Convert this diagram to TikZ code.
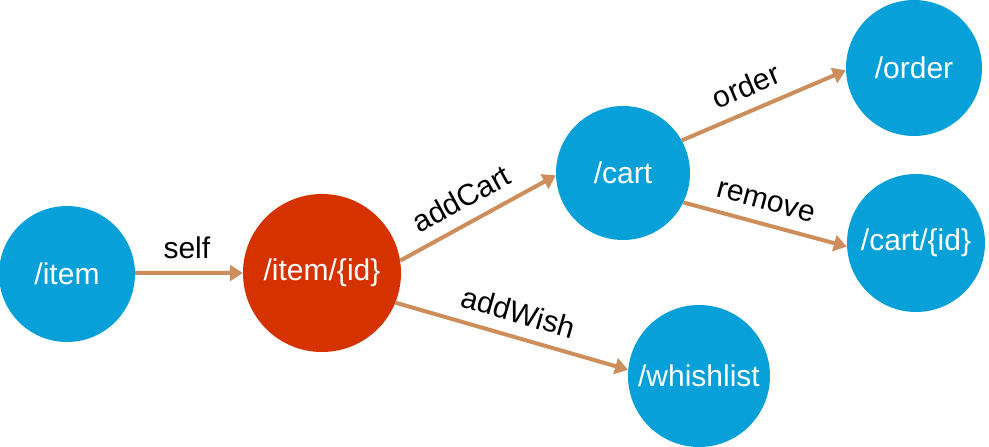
\documentclass[tikz,border=0pt]{standalone}
\usepackage{fontspec}
\setmainfont{Liberation Sans}
\usetikzlibrary{arrows.meta}
\definecolor{nodeblue}{RGB}{7,160,216}
\definecolor{nodered}{RGB}{214,50,0}
\definecolor{edgetan}{RGB}{206,142,92}
\begin{document}
\begin{tikzpicture}[x=1pt,y=-1pt,
  res/.style={circle, fill=nodeblue, inner sep=0pt, text=white, font=\fontsize{30}{32}\selectfont},
  cur/.style={res, fill=nodered},
  link/.style={draw=edgetan, line width=4pt, -{Triangle[length=13pt,width=16pt]}},
  lab/.style={font=\fontsize{30}{32}\selectfont, text=black, sloped, above=8pt, inner sep=4pt}]
\useasboundingbox (0,0) rectangle (989,447);
\node[res, minimum size=136pt] (item) at (67,274) {/item};
\node[cur, minimum size=158pt] (itemid) at (322,273) {/item/\{id\}};
\node[res, minimum size=134pt] (cart) at (623,173) {/cart};
\node[res, minimum size=136pt] (order) at (914,68) {/order};
\node[res, minimum size=138pt] (cartid) at (916,243) {/cart/\{id\}};
\node[res, minimum size=142pt] (wish) at (699,376) {/whishlist};
\draw[link] (item.1) -- node[lab, pos=0.48] {self} (itemid.180);
\draw[link] (itemid.9.5) -- node[lab, pos=0.47] {addCart} (cart.182);
\draw[link] (itemid.-22) -- node[lab, pos=0.5] {addWish} (wish.175);
\draw[link] (cart.29) -- node[lab, pos=0.45] {order} (order.182.5);
\draw[link] (cart.-26) -- node[lab, pos=0.47] {remove} (cartid.183);
\end{tikzpicture}
\end{document}
